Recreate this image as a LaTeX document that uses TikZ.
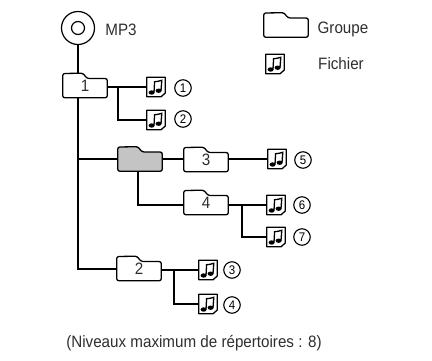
\documentclass[tikz,border=0pt]{standalone}
\usepackage{fontspec}
\setmainfont{Liberation Sans}[FakeStretch=0.92]
\definecolor{inkgrey}{HTML}{2E2E2E}
\definecolor{foldergrey}{HTML}{C4C4C4}
\newcommand{\folderat}[4]{
  \draw[outline,fill=#3,rounded corners=2.2pt,shift={(#2)}]
    (-22.3,12.3) -- (-22.3,-12) -- (-2,-12.3) -- (2,-7) -- (22.3,-7) -- (22.3,12.3) -- cycle;
  \node[folderbox] (#1) at (#2) {#4};
}
\newcommand{\fileat}[2]{
  \begin{scope}[shift={(#2)}]
    \draw[outline,fill=white,line join=round]
      (-9.2,-9.8) -- (9.3,-9.8) -- (9.3,6) -- (5,9.8) -- (-9.2,9.8) -- cycle;
    \fill[black] (-4.4,5.5) ellipse (3 and 2.2);
    \fill[black] (2.6,3.7) ellipse (3 and 2.2);
    \draw[black,line width=1.3pt] (-2,5.5) -- (-1.4,-5.3) .. controls (1,-5.3) and (3,-5.9) .. (5.8,-6.7) -- (5,3.7);
  \end{scope}
  \node[notebox] (#1) at (#2) {};
}
\begin{document}
\begin{tikzpicture}[x=1pt,y=-1pt]
  \tikzstyle{every node}=[text=inkgrey,font=\fontsize{16.5}{18}\selectfont]
  \tikzstyle{link}=[draw=black,line width=1.5pt]
  \tikzstyle{outline}=[draw=black,line width=1.3pt]
  \tikzstyle{numnode}=[circle,draw=black,line width=1.1pt,minimum size=16.5pt,inner sep=0pt,text=black,font=\fontsize{12.5}{13}\selectfont]
  \tikzstyle{folderbox}=[minimum width=45pt,minimum height=25pt,inner sep=0pt,text height=12pt,text depth=0pt]
  \tikzstyle{notebox}=[minimum width=19pt,minimum height=20pt,inner sep=0pt]
  \useasboundingbox (0,0) rectangle (432,360);

  % disc and legend
  \node[circle,draw=black,line width=1.2pt,minimum size=33pt,inner sep=0pt] (disc) at (78,28) {};
  \node[circle,draw=black,line width=1.2pt,minimum size=13pt,inner sep=0pt] (hole) at (78,28) {};
  \node (mptext) at (121,30) {MP3};
  \folderat{keyfolder}{286,25}{white}{}
  \node (keygroupe) at (343,29) {Groupe};
  \fileat{keynote}{275,64}
  \node (keyfichier) at (341,64) {Fichier};

  % folders
  \folderat{fone}{85,85.5}{white}{1}
  \folderat{fgrey}{140,159}{foldergrey}{}
  \folderat{fthree}{206,159.5}{white}{3}
  \folderat{ffour}{206,202.5}{white}{4}
  \folderat{ftwo}{139,268.5}{white}{2}

  % files
  \fileat{nfone}{156,87}
  \fileat{nftwo}{156,120}
  \fileat{nfthree}{208,270}
  \fileat{nffour}{208,304}
  \fileat{nffive}{277,159}
  \fileat{nfsix}{276,205}
  \fileat{nfseven}{276,237}
  \node[numnode] (numone) at (183,88) {1};
  \node[numnode] (numtwo) at (183,119) {2};
  \node[numnode] (numthree) at (232,270) {3};
  \node[numnode] (numfour) at (232,305) {4};
  \node[numnode] (numfive) at (303,160) {5};
  \node[numnode] (numsix) at (302,205) {6};
  \node[numnode] (numseven) at (302,237) {7};

  \coordinate (trunkgrey) at (78,159);
  \coordinate (trunktwo) at (78,269);
  \coordinate (forkone) at (118,87);
  \coordinate (forkfour) at (242,205);
  \coordinate (forktwo) at (174,270);
  \coordinate (greyfoot) at (138,172);

  % connectors
  \draw[link] (disc) -- (78,73);
  \draw[link] (78,98) -- (trunkgrey) -- (trunktwo) -- (ftwo.west |- trunktwo);
  \draw[link] (trunkgrey) -- (fgrey.west);
  \draw[link] (fgrey.east) -- (fthree.west |- trunkgrey);
  \draw[link] (fthree.east |- trunkgrey) -- (nffive.west);
  \draw[link] (greyfoot) |- (ffour.west |- forkfour);
  \draw[link] (forkone -| fone.east) -- (nfone.west);
  \draw[link] (forkone) |- (nftwo.west);
  \draw[link] (forkfour -| ffour.east) -- (nfsix.west);
  \draw[link] (forkfour) |- (nfseven.west);
  \draw[link] (forktwo -| ftwo.east) -- (nfthree.west);
  \draw[link] (forktwo) |- (nffour.west);

  \node (caption) at (194,343) {(Niveaux maximum de répertoires : 8)};
\end{tikzpicture}
\end{document}
